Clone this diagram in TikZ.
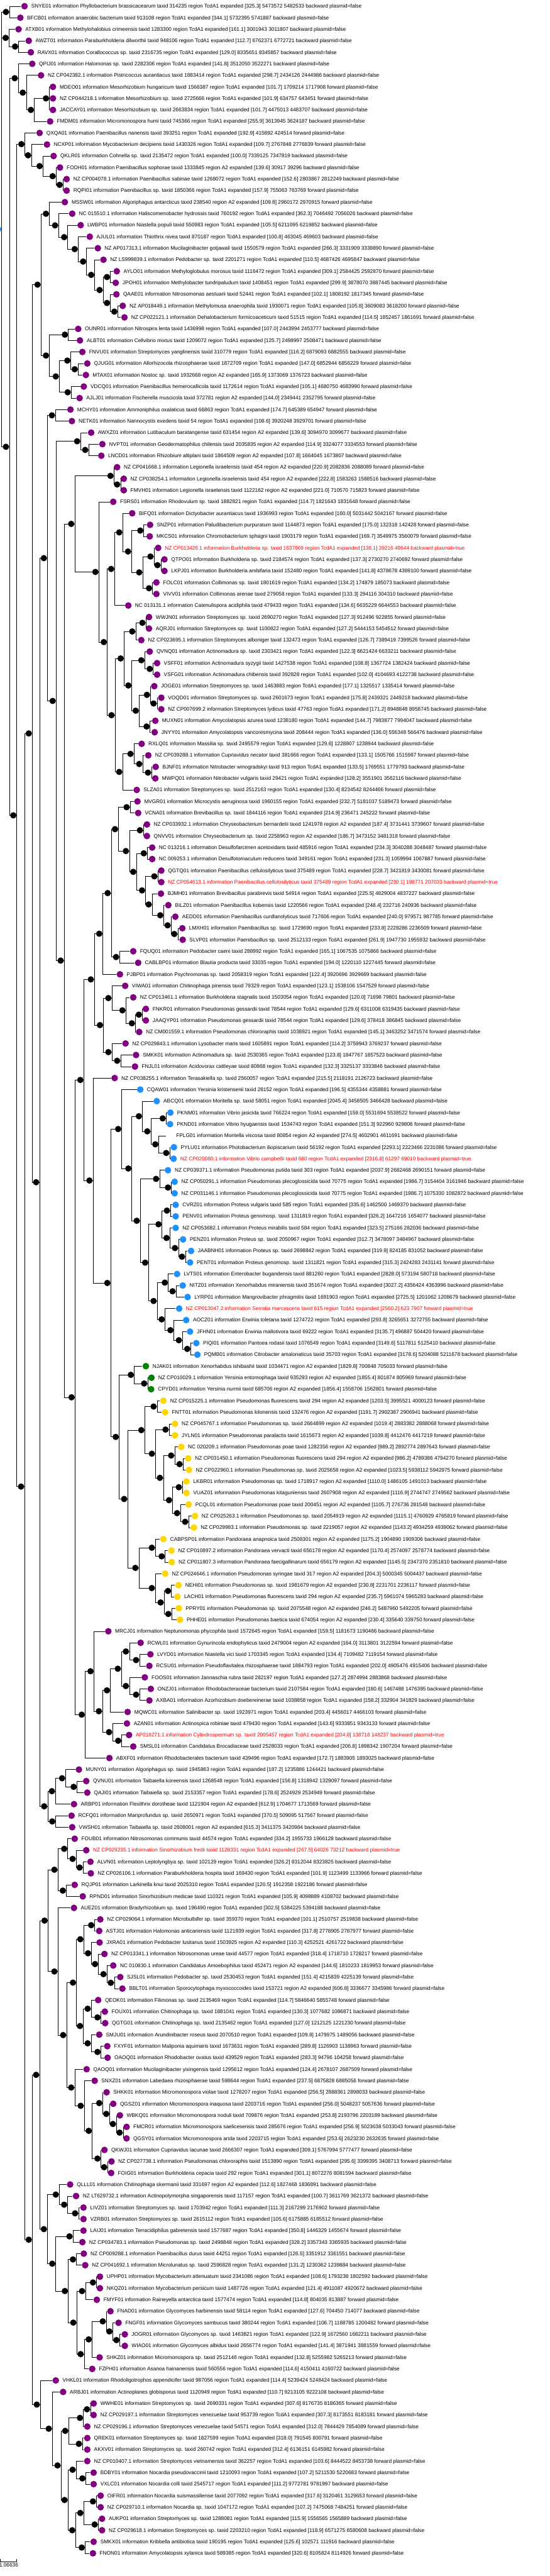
\documentclass[tikz,border=0pt]{standalone}
\usepackage{fontspec}
\setmainfont{Liberation Sans}
\usetikzlibrary{calc}
\pgfdeclarelayer{bg}
\pgfdeclarelayer{paper}
\pgfsetlayers{paper,bg,main}
\definecolor{lpurple}{RGB}{128,0,128}
\definecolor{lblue}{RGB}{30,144,255}
\definecolor{lgreen}{RGB}{0,128,0}
\definecolor{lgold}{RGB}{255,215,0}
\definecolor{lred}{RGB}{255,0,0}
\tikzset{
  br/.style={draw=black, line width=0.55pt},
  ldot/.style={circle, inner sep=0pt, minimum size=9.6pt, draw=none},
  ndot/.style={circle, inner sep=0pt, minimum size=9.2pt, fill=black, draw=none},
  lab/.style={anchor=mid west, inner sep=0pt, font=\fontsize{7.6}{9}\selectfont},
}
\newcommand{\lf}[5][]{%
  \pgfmathsetmacro{\ly}{18+33.52*#2}%
  \coordinate (l#2) at ({#3-10},\ly);%
  \node[ldot, fill=#4] (d#2) at (#3,\ly) {};%
  \node[lab,#1] (t#2) at ({#3+19},\ly) {#5};}
\newcommand{\nd}[4]{%
  \path let \p1=(#3), \p2=(#4) in ({#2*0.5102pt},{(\y1+\y2)/2}) coordinate (#1);%
  \begin{pgfonlayer}{bg}\draw[br] (#1) |- (#3); \draw[br] (#1) |- (#4);\end{pgfonlayer}%
  \node[ndot] (#1d) at ([xshift=-5.1pt]#1) {};}
\begin{document}
\begin{tikzpicture}[x=0.5102pt,y=-0.5pt]
\useasboundingbox (0,0) rectangle (1568,7492);
\begin{pgfonlayer}{paper}\fill[white] (0,0) rectangle (1568,7492);\end{pgfonlayer}
\lf{0}{70}{lpurple}{SNYE01 information Phyllobacterium brassicacearum taxid 314235 region TcdA1 expanded [325.3] 5473572 5482533 backward plasmid=false}
\lf{1}{58}{lpurple}{BFCB01 information anaerobic bacterium taxid 913108 region TcdA1 expanded [344.1] 5732395 5741887 backward plasmid=false}
\lf{2}{53}{lpurple}{ATXB01 information Methylohalobius crimeensis taxid 1283300 region TcdA1 expanded [161.1] 3001943 3011807 backward plasmid=false}
\lf{3}{82}{lpurple}{AWZT01 information Paraburkholderia dilworthii taxid 948106 region TcdA1 expanded [112.7] 6762371 6772721 backward plasmid=false}
\lf{4}{88}{lpurple}{RAVX01 information Corallococcus sp. taxid 2316735 region TcdA1 expanded [129.0] 8335651 8345857 backward plasmid=false}
\lf{5}{92}{lpurple}{QPIJ01 information Halomonas sp. taxid 2282306 region TcdA1 expanded [141.8] 3512050 3522271 backward plasmid=false}
\lf{6}{117}{lpurple}{NZ CP042382.1 information Pistricoccus aurantiacus taxid 1883414 region TcdA1 expanded [298.7] 2434126 2444986 backward plasmid=false}
\lf{7}{151}{lpurple}{MDEO01 information Mesorhizobium hungaricum taxid 1566387 region TcdA1 expanded [101.7] 1709214 1717908 forward plasmid=false}
\lf{8}{151}{lpurple}{NZ CP044218.1 information Mesorhizobium sp. taxid 2725666 region TcdA1 expanded [101.9] 634757 643451 forward plasmid=false}
\lf{9}{151}{lpurple}{JACCAY01 information Mesorhizobium sp. taxid 2663834 region TcdA1 expanded [101.7] 4475013 4483707 backward plasmid=false}
\lf{10}{143}{lpurple}{FMDM01 information Micromonospora humi taxid 745366 region TcdA1 expanded [255.9] 3613945 3624187 backward plasmid=false}
\lf{11}{113}{lpurple}{QXQA01 information Paenibacillus nanensis taxid 393251 region TcdA1 expanded [192.9] 415892 424514 forward plasmid=false}
\lf{12}{134}{lpurple}{NCXP01 information Mycobacterium decipiens taxid 1430326 region TcdA1 expanded [109.7] 2767848 2776839 forward plasmid=false}
\lf{13}{153}{lpurple}{QKLR01 information Cohnella sp. taxid 2135472 region TcdA1 expanded [100.0] 7339125 7347819 backward plasmid=false}
\lf{14}{171}{lpurple}{FODH01 information Paenibacillus sophorae taxid 1333845 region A2 expanded [139.6] 30917 39296 backward plasmid=false}
\lf{15}{190}{lpurple}{NZ CP004078.1 information Paenibacillus sabinae taxid 1268072 region TcdA1 expanded [152.6] 2803867 2812249 backward plasmid=false}
\lf{16}{190}{lpurple}{RQPI01 information Paenibacillus sp. taxid 1850366 region TcdA1 expanded [157.9] 755063 763769 forward plasmid=false}
\lf{17}{185}{lpurple}{MSSW01 information Algoriphagus antarcticus taxid 238540 region A2 expanded [109.8] 2960172 2970915 forward plasmid=false}
\lf{18}{206}{lpurple}{NC 015510.1 information Haliscomenobacter hydrossis taxid 760192 region TcdA1 expanded [362.3] 7046492 7056026 backward plasmid=false}
\lf{19}{230}{lpurple}{LWBP01 information Niastella populi taxid 550983 region TcdA1 expanded [105.5] 6211095 6219852 backward plasmid=false}
\lf{20}{256}{lpurple}{AJUL01 information Thiothrix nivea taxid 870187 region TcdA1 expanded [100.8] 463045 469603 backward plasmid=false}
\lf{21}{279}{lpurple}{NZ AP017313.1 information Mucilaginibacter gotjawali taxid 1550579 region TcdA1 expanded [266.3] 3331909 3338890 forward plasmid=false}
\lf{22}{295}{lpurple}{NZ LS999839.1 information Pedobacter sp. taxid 2201271 region TcdA1 expanded [110.5] 4687426 4695847 backward plasmid=false}
\lf{23}{333}{lpurple}{AYLO01 information Methyloglobulus morosus taxid 1116472 region TcdA1 expanded [309.1] 2584425 2592870 forward plasmid=false}
\lf{24}{330}{lpurple}{JPOH01 information Methylobacter tundripaludum taxid 1408451 region TcdA1 expanded [299.9] 3878070 3887445 backward plasmid=false}
\lf{25}{332}{lpurple}{QAAE01 information Nitrosomonas aestuarii taxid 52441 region TcdA1 expanded [102.1] 1808192 1817345 forward plasmid=false}
\lf{26}{350}{lpurple}{NZ AP018449.1 information Methylomusa anaerophila taxid 1930071 region TcdA1 expanded [105.8] 3609083 3618200 forward plasmid=false}
\lf{27}{355}{lpurple}{NZ CP022121.1 information Dehalobacterium formicoaceticum taxid 51515 region TcdA1 expanded [114.5] 1852457 1861691 forward plasmid=false}
\lf{28}{223}{lpurple}{OUNR01 information Nitrospira lenta taxid 1436998 region TcdA1 expanded [107.0] 2443994 2453777 backward plasmid=false}
\lf{29}{228}{lpurple}{ALBT01 information Cellvibrio mixtus taxid 1209072 region TcdA1 expanded [125.7] 2498997 2508471 backward plasmid=false}
\lf{30}{235}{lpurple}{FNVU01 information Streptomyces yanglinensis taxid 310779 region TcdA1 expanded [116.2] 6879093 6882555 backward plasmid=false}
\lf{31}{249}{lpurple}{QJUG01 information Allorhizocola rhizosphaerae taxid 1872709 region TcdA1 expanded [147.0] 6852944 6856229 forward plasmid=false}
\lf{32}{245}{lpurple}{MTAX01 information Nostoc sp. taxid 1932668 region A2 expanded [165.9] 1373069 1376723 backward plasmid=false}
\lf{33}{239}{lpurple}{VDCQ01 information Paenibacillus hemerocallicola taxid 1172614 region TcdA1 expanded [105.1] 4680750 4683990 forward plasmid=false}
\lf{34}{227}{lpurple}{AJLJ01 information Fischerella muscicola taxid 372781 region A2 expanded [144.0] 2349441 2352795 forward plasmid=false}
\lf{35}{201}{lpurple}{MCHY01 information Ammoniphilus oxalaticus taxid 66863 region TcdA1 expanded [174.7] 645389 654947 forward plasmid=false}
\lf{36}{205}{lpurple}{NETK01 information Nannocystis exedens taxid 54 region TcdA1 expanded [108.6] 3920248 3929701 forward plasmid=false}
\lf{37}{260}{lpurple}{AWXZ01 information Lutibaculum baratangense taxid 631454 region A2 expanded [139.6] 3094970 3099677 backward plasmid=false}
\lf{38}{292}{lpurple}{NVPT01 information Geodermatophilus chilensis taxid 2035835 region A2 expanded [114.9] 3324077 3334553 forward plasmid=false}
\lf{39}{289}{lpurple}{LNCD01 information Rhizobium altiplani taxid 1864509 region A2 expanded [107.8] 1664045 1673807 backward plasmid=false}
\lf{40}{334}{lpurple}{NZ CP041668.1 information Legionella israelensis taxid 454 region A2 expanded [220.9] 2082836 2088089 forward plasmid=false}
\lf{41}{353}{lpurple}{NZ CP038254.1 information Legionella israelensis taxid 454 region A2 expanded [222.8] 1583263 1588516 backward plasmid=false}
\lf{42}{353}{lpurple}{FMVH01 information Legionella israelensis taxid 1122162 region A2 expanded [221.0] 710570 715823 forward plasmid=false}
\lf{43}{323}{lpurple}{FSRS01 information Rhodovulum sp. taxid 1882821 region TcdA1 expanded [114.7] 1821643 1831648 forward plasmid=false}
\lf{44}{377}{lpurple}{BIFQ01 information Dictyobacter aurantiacus taxid 1936993 region TcdA1 expanded [160.0] 5031442 5042167 forward plasmid=false}
\lf{45}{428}{lpurple}{SNZP01 information Paludibacterium purpuratum taxid 1144873 region TcdA1 expanded [175.0] 132318 142428 forward plasmid=false}
\lf{46}{427}{lpurple}{MKCS01 information Chromobacterium sphagni taxid 1903179 region TcdA1 expanded [169.7] 3549975 3560079 forward plasmid=false}
\lf[text=lred]{47}{451}{lpurple}{NZ CP013426.1 information Burkholderia sp. taxid 1637869 region TcdA1 expanded [138.1] 39216 49644 backward plasmid=true}
\lf{48}{469}{lpurple}{QTPO01 information Burkholderia sp. taxid 2184574 region TcdA1 expanded [137.3] 2730270 2740692 forward plasmid=false}
\lf{49}{469}{lpurple}{LKPJ01 information Burkholderia ambifaria taxid 152480 region TcdA1 expanded [141.8] 4378678 4389100 forward plasmid=false}
\lf{50}{446}{lpurple}{FOLC01 information Collimonas sp. taxid 1801619 region TcdA1 expanded [134.2] 174879 185073 backward plasmid=false}
\lf{51}{446}{lpurple}{VIVV01 information Collimonas arenae taxid 279058 region TcdA1 expanded [133.3] 294116 304310 backward plasmid=false}
\lf{52}{366}{lpurple}{NC 013131.1 information Catenulispora acidiphila taxid 479433 region TcdA1 expanded [134.6] 6635229 6644553 backward plasmid=false}
\lf{53}{425}{lpurple}{WWJN01 information Streptomyces sp. taxid 2690270 region TcdA1 expanded [127.3] 912496 922855 forward plasmid=false}
\lf{54}{425}{lpurple}{AQRJ01 information Streptomyces sp. taxid 1100822 region TcdA1 expanded [127.2] 5444153 5454512 forward plasmid=false}
\lf{55}{403}{lpurple}{NZ CP023695.1 information Streptomyces alboniger taxid 132473 region TcdA1 expanded [126.7] 7389419 7399526 forward plasmid=false}
\lf{56}{427}{lpurple}{QVNQ01 information Actinomadura sp. taxid 2303421 region TcdA1 expanded [122.3] 6621424 6633211 backward plasmid=false}
\lf{57}{448}{lpurple}{VSFF01 information Actinomadura syzygii taxid 1427538 region TcdA1 expanded [108.8] 1367724 1382424 backward plasmid=false}
\lf{58}{448}{lpurple}{VSFG01 information Actinomadura chibensis taxid 392828 region TcdA1 expanded [102.0] 4104693 4122738 backward plasmid=false}
\lf{59}{440}{lpurple}{JOGE01 information Streptomyces sp. taxid 1463883 region TcdA1 expanded [177.1] 1325517 1335414 forward plasmid=false}
\lf{60}{460}{lpurple}{VOQD01 information Streptomyces sp. taxid 2601673 region TcdA1 expanded [175.8] 2439321 2449218 backward plasmid=false}
\lf{61}{460}{lpurple}{NZ CP007699.2 information Streptomyces lydicus taxid 47763 region TcdA1 expanded [171.2] 8948848 8958745 backward plasmid=false}
\lf{62}{443}{lpurple}{MUXN01 information Amycolatopsis azurea taxid 1238180 region TcdA1 expanded [144.7] 7983877 7994047 backward plasmid=false}
\lf{63}{441}{lpurple}{JNYY01 information Amycolatopsis vancoresmycina taxid 208444 region TcdA1 expanded [136.0] 556348 566476 backward plasmid=false}
\lf{64}{404}{lpurple}{RXLQ01 information Massilia sp. taxid 2495579 region TcdA1 expanded [129.6] 1228807 1238944 backward plasmid=false}
\lf{65}{423}{lpurple}{NZ CP039288.1 information Cupriavidus necator taxid 381666 region TcdA1 expanded [133.1] 1505766 1515987 forward plasmid=false}
\lf{66}{444}{lpurple}{BJNF01 information Nitrobacter winogradskyi taxid 913 region TcdA1 expanded [133.5] 1769551 1779793 backward plasmid=false}
\lf{67}{443}{lpurple}{MWPQ01 information Nitrobacter vulgaris taxid 29421 region TcdA1 expanded [128.2] 3551901 3562116 backward plasmid=false}
\lf{68}{390}{lpurple}{SLZA01 information Streptomyces sp. taxid 2512163 region TcdA1 expanded [130.4] 8234542 8244466 forward plasmid=false}
\lf{69}{392}{lpurple}{MVGR01 information Microcystis aeruginosa taxid 1960155 region TcdA1 expanded [232.7] 5181037 5189473 forward plasmid=false}
\lf{70}{394}{lpurple}{VCNA01 information Brevibacillus sp. taxid 1844116 region TcdA1 expanded [214.9] 236471 245222 forward plasmid=false}
\lf{71}{419}{lpurple}{NZ CP033932.1 information Chryseobacterium bernardetii taxid 1241978 region A2 expanded [187.4] 3731441 3739607 forward plasmid=false}
\lf{72}{419}{lpurple}{QNVV01 information Chryseobacterium sp. taxid 2258963 region A2 expanded [186.7] 3473152 3481318 forward plasmid=false}
\lf{73}{434}{lpurple}{NC 013216.1 information Desulfofarcimen acetoxidans taxid 485916 region TcdA1 expanded [234.3] 3040288 3048487 forward plasmid=false}
\lf{74}{434}{lpurple}{NC 009253.1 information Desulfotomaculum reducens taxid 349161 region TcdA1 expanded [231.3] 1059994 1067887 forward plasmid=false}
\lf{75}{460}{lpurple}{QGTQ01 information Paenibacillus cellulosilyticus taxid 375489 region TcdA1 expanded [228.7] 3421819 3430081 forward plasmid=false}
\lf[text=lred]{76}{460}{lpurple}{NZ CP054613.1 information Paenibacillus cellulosilyticus taxid 375489 region TcdA1 expanded [230.1] 198771 207033 backward plasmid=true}
\lf{77}{459}{lpurple}{BJMH01 information Brevibacillus parabrevis taxid 54914 region TcdA1 expanded [225.5] 4829004 4837227 backward plasmid=false}
\lf{78}{480}{lpurple}{BILZ01 information Paenibacillus kobensis taxid 1220566 region TcdA1 expanded [248.4] 232716 240936 backward plasmid=false}
\lf{79}{500}{lpurple}{AEDD01 information Paenibacillus curdlanolyticus taxid 717606 region TcdA1 expanded [240.0] 979571 987785 forward plasmid=false}
\lf{80}{520}{lpurple}{LMXH01 information Paenibacillus sp. taxid 1729690 region TcdA1 expanded [233.8] 2228286 2236509 forward plasmid=false}
\lf{81}{521}{lpurple}{SLVP01 information Paenibacillus sp. taxid 2512133 region TcdA1 expanded [261.9] 1947730 1955932 backward plasmid=false}
\lf{82}{380}{lpurple}{FQUQ01 information Pedobacter caeni taxid 288992 region TcdA1 expanded [165.1] 1067535 1075866 backward plasmid=false}
\lf{83}{394}{lpurple}{CABLBP01 information Blautia producta taxid 33035 region TcdA1 expanded [194.0] 1220110 1227445 forward plasmid=false}
\lf{84}{342}{lpurple}{PJBP01 information Psychromonas sp. taxid 2058319 region TcdA1 expanded [122.4] 3920696 3929669 backward plasmid=false}
\lf{85}{357}{lpurple}{VIWA01 information Chitinophaga pinensis taxid 79329 region TcdA1 expanded [123.1] 1538106 1547529 forward plasmid=false}
\lf{86}{380}{lpurple}{NZ CP013461.1 information Burkholderia stagnalis taxid 1503054 region TcdA1 expanded [120.0] 71698 79801 backward plasmid=false}
\lf{87}{416}{lpurple}{FNKR01 information Pseudomonas gessardii taxid 78544 region TcdA1 expanded [129.6] 6311008 6319435 backward plasmid=false}
\lf{88}{416}{lpurple}{JAAQYP01 information Pseudomonas gessardii taxid 78544 region TcdA1 expanded [129.6] 378418 386845 backward plasmid=false}
\lf{89}{397}{lpurple}{NZ CM001559.1 information Pseudomonas chlororaphis taxid 1038921 region TcdA1 expanded [145.1] 3463252 3471574 forward plasmid=false}
\lf{90}{358}{lpurple}{NZ CP029843.1 information Lysobacter maris taxid 1605891 region TcdA1 expanded [114.2] 3759943 3769237 forward plasmid=false}
\lf{91}{388}{lpurple}{SMKK01 information Actinomadura sp. taxid 2530365 region TcdA1 expanded [123.8] 1847767 1857523 backward plasmid=false}
\lf{92}{385}{lpurple}{FNJL01 information Acidovorax cattleyae taxid 80868 region TcdA1 expanded [132.3] 3325137 3333846 backward plasmid=false}
\lf{93}{327}{lpurple}{NZ CP038255.1 information Terasakiella sp. taxid 2560057 region TcdA1 expanded [215.5] 2118191 2126723 backward plasmid=false}
\lf{94}{400}{lblue}{CQAW01 information Yersinia kristensenii taxid 28152 region TcdA1 expanded [196.5] 4355344 4358881 forward plasmid=false}
\lf{95}{447}{lblue}{ABCQ01 information Moritella sp. taxid 58051 region TcdA1 expanded [2045.4] 3458505 3466428 backward plasmid=false}
\lf{96}{486}{lblue}{PKNM01 information Vibrio jasicida taxid 766224 region TcdA1 expanded [159.0] 5531694 5538522 forward plasmid=false}
\lf{97}{485}{lblue}{PKND01 information Vibrio hyugaensis taxid 1534743 region TcdA1 expanded [151.3] 922960 929806 forward plasmid=false}
\lf{98}{483}{none}{FPLG01 information Moritella viscosa taxid 80854 region A2 expanded [274.5] 4602901 4611691 backward plasmid=false}
\lf{99}{496}{lblue}{PYLU01 information Photobacterium iliopiscarium taxid 56192 region TcdA1 expanded [2293.1] 2223466 2231086 forward plasmid=false}
\lf[text=lred]{100}{495}{lblue}{NZ CP020080.1 information Vibrio campbellii taxid 680 region TcdA1 expanded [2316.8] 61297 69010 backward plasmid=true}
\lf{101}{479}{lblue}{NZ CP039371.1 information Pseudomonas putida taxid 303 region TcdA1 expanded [2037.9] 2682468 2690151 forward plasmid=false}
\lf{102}{498}{lblue}{NZ CP050291.1 information Pseudomonas plecoglossicida taxid 70775 region TcdA1 expanded [1986.7] 3154404 3161946 backward plasmid=false}
\lf{103}{498}{lblue}{NZ CP031146.1 information Pseudomonas plecoglossicida taxid 70775 region TcdA1 expanded [1986.7] 1075330 1082872 backward plasmid=false}
\lf{104}{501}{lblue}{CVRZ01 information Proteus vulgaris taxid 585 region TcdA1 expanded [335.6] 1462500 1469370 backward plasmid=false}
\lf{105}{501}{lblue}{PENV01 information Proteus genomosp. taxid 1311819 region TcdA1 expanded [326.2] 1647216 1654077 backward plasmid=false}
\lf{106}{501}{lblue}{NZ CP053682.1 information Proteus mirabilis taxid 584 region TcdA1 expanded [323.5] 275166 282036 backward plasmid=false}
\lf{107}{522}{lblue}{PENZ01 information Proteus sp. taxid 2050967 region TcdA1 expanded [312.7] 3478097 3484967 backward plasmid=false}
\lf{108}{545}{lblue}{JAABNH01 information Proteus sp. taxid 2698842 region TcdA1 expanded [319.9] 824185 831052 backward plasmid=false}
\lf{109}{542}{lblue}{PENT01 information Proteus genomosp. taxid 1311821 region TcdA1 expanded [315.3] 2424283 2431141 forward plasmid=false}
\lf{110}{505}{lblue}{LVTS01 information Enterobacter bugandensis taxid 881260 region TcdA1 expanded [2828.0] 573194 580718 backward plasmid=false}
\lf{111}{521}{lblue}{NITZ01 information Xenorhabdus miraniensis taxid 351674 region TcdA1 expanded [3027.2] 4356424 4363996 backward plasmid=false}
\lf{112}{535}{lblue}{LYRP01 information Mangrovibacter phragmitis taxid 1691903 region TcdA1 expanded [2725.5] 1201062 1208679 backward plasmid=false}
\lf[text=lred]{113}{511}{lblue}{NZ CP013047.2 information Serratia marcescens taxid 615 region TcdA1 expanded [2560.2] 623 7907 forward plasmid=true}
\lf{114}{531}{lblue}{AOCZ01 information Erwinia toletana taxid 1274722 region TcdA1 expanded [293.8] 3265651 3272755 backward plasmid=false}
\lf{115}{542}{lblue}{JFHN01 information Erwinia mallotivora taxid 69222 region TcdA1 expanded [3135.7] 496887 504420 forward plasmid=false}
\lf{116}{560}{lblue}{PIQI01 information Pantoea rodasii taxid 1076549 region TcdA1 expanded [3149.6] 5117811 5125410 backward plasmid=false}
\lf{117}{563}{lblue}{PQMB01 information Citrobacter amalonaticus taxid 35703 region TcdA1 expanded [3178.6] 5204088 5211678 backward plasmid=false}
\lf{118}{416}{lgreen}{NJAK01 information Xenorhabdus ishibashii taxid 1034471 region A2 expanded [1829.8] 700848 705033 forward plasmid=false}
\lf{119}{432}{lgreen}{NZ CP010029.1 information Yersinia entomophaga taxid 935293 region A2 expanded [1855.4] 801874 805969 forward plasmid=false}
\lf{120}{431}{lgreen}{CPYD01 information Yersinia nurmii taxid 685706 region A2 expanded [1856.4] 1558706 1562801 forward plasmid=false}
\lf{121}{466}{lgold}{NZ CP015225.1 information Pseudomonas fluorescens taxid 294 region A2 expanded [1203.5] 3995521 4000123 forward plasmid=false}
\lf{122}{471}{lgold}{FNTT01 information Pseudomonas kilonensis taxid 132476 region A2 expanded [1191.7] 2902387 2906941 backward plasmid=false}
\lf{123}{499}{lgold}{NZ CP045767.1 information Pseudomonas sp. taxid 2664899 region A2 expanded [1019.4] 2883382 2888068 forward plasmid=false}
\lf{124}{499}{lgold}{JYLN01 information Pseudomonas paralactis taxid 1615673 region A2 expanded [1039.8] 4412476 4417219 forward plasmid=false}
\lf{125}{517}{lgold}{NC 020209.1 information Pseudomonas poae taxid 1282356 region A2 expanded [989.2] 2892774 2897643 forward plasmid=false}
\lf{126}{537}{lgold}{NZ CP031450.1 information Pseudomonas fluorescens taxid 294 region A2 expanded [986.2] 4789386 4794270 forward plasmid=false}
\lf{127}{539}{lgold}{NZ CP022960.1 information Pseudomonas sp. taxid 2025658 region A2 expanded [1023.5] 5938112 5942975 forward plasmid=false}
\lf{128}{532}{lgold}{LKBR01 information Pseudomonas sp. taxid 1718917 region A2 expanded [1110.0] 1486105 1491013 backward plasmid=false}
\lf{129}{532}{lgold}{VUAZ01 information Pseudomonas kitaguniensis taxid 2607908 region A2 expanded [1116.9] 2744747 2749562 backward plasmid=false}
\lf{130}{538}{lgold}{PCQL01 information Pseudomonas poae taxid 200451 region A2 expanded [1105.7] 276736 281548 backward plasmid=false}
\lf{131}{556}{lgold}{NZ CP025263.1 information Pseudomonas sp. taxid 2054919 region A2 expanded [1115.1] 4760929 4765819 forward plasmid=false}
\lf{132}{553}{lgold}{NZ CP029983.1 information Pseudomonas sp. taxid 2219057 region A2 expanded [1143.2] 4934259 4939062 forward plasmid=false}
\lf{133}{466}{lgold}{CABPSP01 information Pandoraea anapnoica taxid 2508301 region A2 expanded [1175.2] 1904890 1909306 backward plasmid=false}
\lf{134}{489}{lgold}{NZ CP010897.2 information Pandoraea vervacti taxid 656178 region A2 expanded [1170.4] 2574097 2578774 backward plasmid=false}
\lf{135}{490}{lgold}{NZ CP011807.3 information Pandoraea faecigallinarum taxid 656179 region A2 expanded [1145.5] 2347370 2351810 backward plasmid=false}
\lf{136}{471}{lgold}{NZ CP024646.1 information Pseudomonas syringae taxid 317 region A2 expanded [204.3] 5000345 5004437 backward plasmid=false}
\lf{137}{509}{lgold}{NEHI01 information Pseudomonas sp. taxid 1981679 region A2 expanded [230.8] 2231701 2236117 forward plasmid=false}
\lf{138}{506}{lgold}{LACH01 information Pseudomonas fluorescens taxid 294 region A2 expanded [235.7] 5961074 5965283 backward plasmid=false}
\lf{139}{510}{lgold}{PPRY01 information Pseudomonas sp. taxid 2075548 region A2 expanded [246.2] 5487960 5492205 forward plasmid=false}
\lf{140}{513}{lgold}{PHHE01 information Pseudomonas baetica taxid 674054 region A2 expanded [230.4] 335640 339750 forward plasmid=false}
\lf{141}{309}{lpurple}{MRCJ01 information Neptunomonas phycophila taxid 1572645 region TcdA1 expanded [159.5] 1181673 1190466 backward plasmid=false}
\lf{142}{401}{lpurple}{RCWL01 information Gynurincola endophyticus taxid 2479004 region A2 expanded [164.0] 3113801 3122594 forward plasmid=false}
\lf{143}{429}{lpurple}{LVYD01 information Niastella vici taxid 1703345 region TcdA1 expanded [134.4] 7109482 7119154 forward plasmid=false}
\lf{144}{426}{lpurple}{RCSU01 information Pseudoflavitalea rhizosphaerae taxid 1884793 region TcdA1 expanded [202.0] 4905476 4915406 backward plasmid=false}
\lf{145}{413}{lpurple}{FOOS01 information Jannaschia rubra taxid 282197 region TcdA1 expanded [127.2] 2874994 2883868 backward plasmid=false}
\lf{146}{430}{lpurple}{ONZJ01 information Rhodobacteraceae bacterium taxid 2107584 region TcdA1 expanded [180.6] 1467488 1476395 backward plasmid=false}
\lf{147}{426}{lpurple}{AXBA01 information Azorhizobium doebereinerae taxid 1038858 region TcdA1 expanded [158.2] 332904 341829 backward plasmid=false}
\lf{148}{364}{lpurple}{MQWC01 information Salinibacter sp. taxid 1923971 region TcdA1 expanded [203.4] 4456017 4466103 forward plasmid=false}
\lf{149}{362}{lpurple}{AZAN01 information Actinospica robiniae taxid 479430 region TcdA1 expanded [143.6] 9333851 9343133 forward plasmid=false}
\lf[text=lred]{150}{368}{lpurple}{AP018271.1 information Cylindrospermum sp. taxid 2005457 region TcdA1 expanded [204.8] 138718 148237 backward plasmid=true}
\lf{151}{380}{lpurple}{SMSL01 information Candidatus Brocadiaceae taxid 2528033 region TcdA1 expanded [206.8] 1898342 1907204 forward plasmid=false}
\lf{152}{312}{lpurple}{ABXF01 information Rhodobacterales bacterium taxid 439496 region TcdA1 expanded [172.7] 1883905 1893025 backward plasmid=false}
\lf{153}{225}{lpurple}{MUNY01 information Algoriphagus sp. taxid 1945863 region TcdA1 expanded [187.2] 1235886 1244421 backward plasmid=false}
\lf{154}{246}{lpurple}{QVNU01 information Taibaiella koreensis taxid 1268548 region TcdA1 expanded [156.8] 1318942 1329097 forward plasmid=false}
\lf{155}{249}{lpurple}{QAJI01 information Taibaiella sp. taxid 2153357 region TcdA1 expanded [178.6] 2524929 2534949 forward plasmid=false}
\lf{156}{211}{lpurple}{ARBP01 information Flexithrix dorotheae taxid 1121904 region A2 expanded [612.9] 1704677 1713569 forward plasmid=false}
\lf{157}{204}{lpurple}{RCFQ01 information Mariprofundus sp. taxid 2650971 region TcdA1 expanded [370.5] 509095 517567 forward plasmid=false}
\lf{158}{206}{lpurple}{VWSH01 information Taibaiella sp. taxid 2608001 region A2 expanded [615.3] 3411375 3420984 backward plasmid=false}
\lf{159}{213}{lpurple}{FOUB01 information Nitrosomonas communis taxid 44574 region TcdA1 expanded [334.2] 1955733 1966128 backward plasmid=false}
\lf[text=lred]{160}{246}{lpurple}{NZ CP029235.1 information Sinorhizobium fredii taxid 1128331 region TcdA1 expanded [267.5] 64026 73212 backward plasmid=true}
\lf{161}{258}{lpurple}{ALVN01 information Leptolyngbya sp. taxid 102129 region TcdA1 expanded [326.2] 8312044 8323825 backward plasmid=false}
\lf{162}{259}{lpurple}{NZ CP026106.1 information Paraburkholderia hospita taxid 169430 region TcdA1 expanded [101.9] 1123499 1133966 forward plasmid=false}
\lf{163}{213}{lpurple}{RQJP01 information Larkinella knui taxid 2025310 region TcdA1 expanded [120.5] 1912358 1922186 forward plasmid=false}
\lf{164}{236}{lpurple}{RPND01 information Sinorhizobium medicae taxid 110321 region TcdA1 expanded [105.9] 4098889 4108702 backward plasmid=false}
\lf{165}{211}{lpurple}{AUEZ01 information Bradyrhizobium sp. taxid 196490 region TcdA1 expanded [302.5] 5384225 5394188 backward plasmid=false}
\lf{166}{286}{lpurple}{NZ CP029064.1 information Microbulbifer sp. taxid 359370 region TcdA1 expanded [101.1] 2510757 2519838 backward plasmid=false}
\lf{167}{283}{lpurple}{ASTJ01 information Halomonas anticariensis taxid 1121939 region TcdA1 expanded [317.8] 2778905 2787977 forward plasmid=false}
\lf{168}{284}{lpurple}{JXRA01 information Pedobacter lusitanus taxid 1503925 region A2 expanded [110.3] 4252521 4261722 backward plasmid=false}
\lf{169}{298}{lpurple}{NZ CP013341.1 information Nitrosomonas ureae taxid 44577 region TcdA1 expanded [318.4] 1718710 1728217 forward plasmid=false}
\lf{170}{323}{lpurple}{NC 010830.1 information Candidatus Amoebophilus taxid 452471 region A2 expanded [144.6] 1810233 1819953 forward plasmid=false}
\lf{171}{343}{lpurple}{SJSL01 information Pedobacter sp. taxid 2530453 region TcdA1 expanded [151.4] 4215839 4225139 forward plasmid=false}
\lf{172}{349}{lpurple}{BBLT01 information Sporocytophaga myxococcoides taxid 153721 region A2 expanded [606.8] 3336677 3345986 forward plasmid=false}
\lf{173}{280}{lpurple}{QEOK01 information Filimonas sp. taxid 2135469 region TcdA1 expanded [114.7] 5846640 5855748 forward plasmid=false}
\lf{174}{299}{lpurple}{FOUX01 information Chitinophaga sp. taxid 1881041 region TcdA1 expanded [130.3] 1077682 1086871 backward plasmid=false}
\lf{175}{300}{lpurple}{QGTG01 information Chitinophaga sp. taxid 2135462 region TcdA1 expanded [127.0] 1212125 1221230 forward plasmid=false}
\lf{176}{283}{lpurple}{SMJU01 information Arundinibacter roseus taxid 2070510 region TcdA1 expanded [109.8] 1479975 1489056 backward plasmid=false}
\lf{177}{306}{lpurple}{FXYF01 information Maliponia aquimaris taxid 1673631 region TcdA1 expanded [289.8] 1126903 1138963 forward plasmid=false}
\lf{178}{307}{lpurple}{OAOQ01 information Rhodobacter ovatus taxid 439529 region TcdA1 expanded [283.3] 94796 104258 forward plasmid=false}
\lf{179}{247}{lpurple}{QAOQ01 information Mucilaginibacter yixingensis taxid 1295612 region TcdA1 expanded [124.4] 2678107 2687509 forward plasmid=false}
\lf{180}{270}{lpurple}{SNXZ01 information Labedaea rhizosphaerae taxid 598644 region TcdA1 expanded [237.5] 6875828 6885056 forward plasmid=false}
\lf{181}{304}{lpurple}{SHKK01 information Micromonospora violae taxid 1278207 region TcdA1 expanded [256.5] 2888361 2898033 backward plasmid=false}
\lf{182}{323}{lpurple}{QGSZ01 information Micromonospora inaquosa taxid 2203716 region TcdA1 expanded [256.0] 5048237 5057636 forward plasmid=false}
\lf{183}{342}{lpurple}{WBKQ01 information Micromonospora noduli taxid 709876 region TcdA1 expanded [253.8] 2193796 2203189 backward plasmid=false}
\lf{184}{361}{lpurple}{FMCR01 information Micromonospora saelicesensis taxid 285676 region TcdA1 expanded [256.9] 5023638 5033043 forward plasmid=false}
\lf{185}{361}{lpurple}{QGSY01 information Micromonospora arida taxid 2203715 region TcdA1 expanded [253.6] 2623230 2632635 forward plasmid=false}
\lf{186}{298}{lpurple}{QKWJ01 information Cupriavidus lacunae taxid 2666307 region TcdA1 expanded [309.1] 5767994 5777477 forward plasmid=false}
\lf{187}{318}{lpurple}{NZ CP027738.1 information Pseudomonas chlororaphis taxid 1513890 region TcdA1 expanded [295.6] 3399395 3408713 forward plasmid=false}
\lf{188}{317}{lpurple}{FOIG01 information Burkholderia cepacia taxid 292 region TcdA1 expanded [301.1] 8072276 8081594 backward plasmid=false}
\lf{189}{200}{lpurple}{QLLL01 information Chitinophaga skermanii taxid 331697 region A2 expanded [112.6] 1827468 1836891 backward plasmid=false}
\lf{190}{217}{lpurple}{NZ LT629732.1 information Actinopolymorpha singaporensis taxid 117157 region TcdA1 expanded [100.7] 3611769 3621372 backward plasmid=false}
\lf{191}{238}{lpurple}{LIVZ01 information Streptomyces sp. taxid 1703942 region TcdA1 expanded [111.3] 2167299 2176902 forward plasmid=false}
\lf{192}{238}{lpurple}{VZRB01 information Streptomyces sp. taxid 2615112 region TcdA1 expanded [105.6] 6175885 6185512 forward plasmid=false}
\lf{193}{238}{lpurple}{LAIJ01 information Terracidiphilus gabretensis taxid 1577687 region TcdA1 expanded [350.8] 1446329 1455674 forward plasmid=false}
\lf{194}{235}{lpurple}{NZ CP034783.1 information Pseudomonas sp. taxid 2498848 region TcdA1 expanded [328.2] 3357343 3365935 backward plasmid=false}
\lf{195}{239}{lpurple}{NZ CP009288.1 information Paenibacillus durus taxid 44251 region TcdA1 expanded [126.5] 3351912 3361551 backward plasmid=false}
\lf{196}{243}{lpurple}{NZ CP041692.1 information Microlunatus sp. taxid 2596828 region TcdA1 expanded [131.2] 1230362 1239884 backward plasmid=false}
\lf{197}{285}{lpurple}{UPHP01 information Mycobacterium attenuatum taxid 2341086 region TcdA1 expanded [108.6] 1793238 1802592 backward plasmid=false}
\lf{198}{285}{lpurple}{NKQZ01 information Mycobacterium persicum taxid 1487726 region TcdA1 expanded [121.4] 4911087 4920672 backward plasmid=false}
\lf{199}{276}{lpurple}{FMYF01 information Raineyella antarctica taxid 1577474 region TcdA1 expanded [114.8] 804035 813887 forward plasmid=false}
\lf{200}{315}{lpurple}{FNAD01 information Glycomyces harbinensis taxid 58114 region TcdA1 expanded [127.6] 704450 714077 backward plasmid=false}
\lf{201}{338}{lpurple}{FNGF01 information Glycomyces sambucus taxid 380244 region TcdA1 expanded [106.7] 1188785 1200482 forward plasmid=false}
\lf{202}{356}{lpurple}{JOGR01 information Glycomyces sp. taxid 1463821 region TcdA1 expanded [122.9] 1672560 1682211 backward plasmid=false}
\lf{203}{356}{lpurple}{WIAO01 information Glycomyces albidus taxid 2656774 region TcdA1 expanded [141.4] 3871941 3881559 forward plasmid=false}
\lf{204}{284}{lpurple}{SHKZ01 information Micromonospora sp. taxid 2512146 region TcdA1 expanded [132.8] 5255982 5265213 forward plasmid=false}
\lf{205}{263}{lpurple}{FZPH01 information Asanoa hainanensis taxid 560556 region TcdA1 expanded [114.6] 4150411 4160722 backward plasmid=false}
\lf{206}{159}{lpurple}{VHKL01 information Rhodoligotrophos appendicifer taxid 987056 region TcdA1 expanded [114.4] 5239424 5248424 backward plasmid=false}
\lf{207}{180}{lpurple}{ARBJ01 information Actinoplanes globisporus taxid 1120949 region TcdA1 expanded [110.7] 9213105 9222108 backward plasmid=false}
\lf{208}{267}{lpurple}{WWHE01 information Streptomyces sp. taxid 2690331 region TcdA1 expanded [307.6] 8176735 8186365 forward plasmid=false}
\lf{209}{267}{lpurple}{NZ CP029197.1 information Streptomyces venezuelae taxid 953739 region TcdA1 expanded [307.3] 8173551 8183181 forward plasmid=false}
\lf{210}{249}{lpurple}{NZ CP029196.1 information Streptomyces venezuelae taxid 54571 region TcdA1 expanded [312.0] 7844429 7854089 forward plasmid=false}
\lf{211}{249}{lpurple}{QREK01 information Streptomyces sp. taxid 1827599 region TcdA1 expanded [318.0] 791545 800791 forward plasmid=false}
\lf{212}{249}{lpurple}{AKXV01 information Streptomyces sp. taxid 260742 region TcdA1 expanded [312.4] 6136151 6145982 forward plasmid=false}
\lf{213}{249}{lpurple}{NZ CP010407.1 information Streptomyces vietnamensis taxid 362257 region TcdA1 expanded [103.6] 8444522 8453738 forward plasmid=false}
\lf{214}{267}{lpurple}{BDBY01 information Nocardia pseudovaccinii taxid 1210093 region TcdA1 expanded [107.2] 5211530 5220683 forward plasmid=false}
\lf{215}{267}{lpurple}{VXLC01 information Nocardia colli taxid 2545717 region TcdA1 expanded [111.2] 9772781 9781997 backward plasmid=false}
\lf{216}{287}{lpurple}{OIFR01 information Nocardia suismassiliense taxid 2077092 region TcdA1 expanded [317.6] 3120461 3129653 forward plasmid=false}
\lf{217}{287}{lpurple}{NZ CP029710.1 information Nocardia sp. taxid 1047172 region TcdA1 expanded [107.2] 7475068 7484251 forward plasmid=false}
\lf{218}{291}{lpurple}{AUKP01 information Streptomyces sp. taxid 1288081 region TcdA1 expanded [115.9] 1556565 1565889 backward plasmid=false}
\lf{219}{291}{lpurple}{NZ CP029618.1 information Streptomyces sp. taxid 2203210 region TcdA1 expanded [118.9] 6571275 6580608 backward plasmid=false}
\lf{220}{267}{lpurple}{SMKX01 information Kribbella antibiotica taxid 190195 region TcdA1 expanded [125.6] 102571 111916 backward plasmid=false}
\lf{221}{265}{lpurple}{FNON01 information Amycolatopsis xylanica taxid 589385 region TcdA1 expanded [320.6] 8105824 8114926 forward plasmid=false}
% internal nodes (children before parents)
\nd{A}{27}{l0}{l1}
\nd{C}{53}{l3}{l4}
\nd{B}{26}{l2}{C}
\nd{G}{141}{l7}{l9}
\begin{pgfonlayer}{bg}\draw[br] (G) |- (l8);\end{pgfonlayer}
\nd{F}{98}{G}{l10}
\nd{E}{75}{l6}{F}
\nd{D}{52}{l5}{E}
\nd{L}{180}{l15}{l16}
\nd{K}{160}{l14}{L}
\nd{J}{123}{l13}{K}
\nd{I}{90}{l12}{J}
\nd{H}{71}{l11}{I}
\nd{S}{315}{l23}{l24}
\nd{V}{336}{l26}{l27}
\nd{U}{315}{l25}{V}
\nd{T}{294}{S}{U}
\nd{R}{270}{l22}{T}
\nd{Q}{247}{l21}{R}
\nd{P}{223}{l20}{Q}
\nd{O}{193}{l19}{P}
\nd{N}{167}{l18}{O}
\nd{M}{141}{l17}{N}
\nd{X2}{195}{l28}{l29}
\nd{AD}{223}{l31}{l32}
\nd{AB}{202}{l30}{AD}
\nd{AC}{203}{l33}{l34}
\nd{AA}{169}{AB}{AC}
\nd{Z}{141}{X2}{AA}
\nd{W}{117}{M}{Z}
\nd{AE}{158}{l35}{l36}
\nd{AG}{253}{l38}{l39}
\nd{AF}{230}{l37}{AG}
\nd{AK}{344}{l41}{l42}
\nd{AJ}{325}{l40}{AK}
\nd{AP}{410}{l45}{l46}
\nd{AR}{459}{l48}{l49}
\nd{AQ}{439}{l47}{AR}
\nd{AT}{435}{l50}{l51}
\nd{AS}{407}{AQ}{AT}
\nd{AO}{375}{AP}{AS}
\nd{AN}{350}{l44}{AO}
\nd{AM}{327}{AN}{l52}
\nd{AU}{416}{l53}{l54}
\nd{AV}{387}{AU}{l55}
\nd{AZ}{437}{l57}{l58}
\nd{AY}{413}{l56}{AZ}
\nd{BC}{448}{l60}{l61}
\nd{BB}{429}{l59}{BC}
\nd{BE}{428}{l62}{l63}
\nd{BD}{397}{BB}{BE}
\nd{BA}{376}{AY}{BD}
\nd{AX}{354}{AV}{BA}
\nd{BK}{432}{l66}{l67}
\nd{BJ}{407}{l65}{BK}
\nd{BI}{382}{l64}{BJ}
\nd{BL}{350}{BI}{l68}
\nd{BF}{328}{AX}{BL}
\nd{AW}{306}{AM}{BF}
\nd{AL}{282}{l43}{AW}
\nd{AI}{213}{AJ}{AL}
\nd{BM}{371}{l69}{l70}
\nd{BO}{409}{l71}{l72}
\nd{BQ}{420}{l73}{l74}
\nd{CC}{450}{l75}{l76}
\nd{CI}{507}{l80}{l81}
\nd{CH}{488}{l79}{CI}
\nd{CG}{467}{l78}{CH}
\nd{CF}{434}{l77}{CG}
\nd{CD}{415}{CC}{CF}
\nd{CB}{390}{BQ}{CD}
\nd{BP}{369}{BO}{CB}
\nd{BN}{338}{BM}{BP}
\nd{CK}{341}{l82}{l83}
\nd{CE}{317}{BN}{CK}
\nd{CJ}{293}{CE}{l84}
\nd{CO}{406}{l87}{l88}
\nd{CP}{386}{CO}{l89}
\nd{CN}{359}{l86}{CP}
\nd{CM}{319}{l85}{CN}
\nd{CS}{344}{l91}{l92}
\nd{CR}{319}{l90}{CS}
\nd{CQ}{295}{CM}{CR}
\nd{CL}{269}{CJ}{CQ}
\nd{DD}{474}{l96}{l97}
\nd{DG}{484}{l99}{l100}
\nd{DF}{453}{l98}{DG}
\nd{DE}{430}{DD}{DF}
\nd{DC}{406}{l95}{DE}
\nd{DJ}{489}{l102}{l103}
\nd{DI}{455}{l101}{DJ}
\nd{DM}{486}{l104}{l105}
\nd{DQ}{529}{l108}{l109}
\nd{DP}{509}{l107}{DQ}
\nd{DO}{485}{l106}{DP}
\nd{DN}{462}{DM}{DO}
\nd{DU}{502}{l111}{l112}
\nd{DS}{480}{l110}{DU}
\nd{DZ}{544}{l116}{l117}
\nd{DY}{520}{l115}{DZ}
\nd{DX}{496}{l114}{DY}
\nd{DW}{471}{l113}{DX}
\nd{DV}{448}{DS}{DW}
\nd{DR}{424}{DN}{DV}
\nd{DL}{400}{DI}{DR}
\nd{DH}{376}{DC}{DL}
\nd{DB}{347}{l94}{DH}
\nd{EC}{421}{l119}{l120}
\nd{EB}{383}{l118}{EC}
\nd{EE}{448}{l121}{l122}
\nd{EG}{482}{l123}{l124}
\nd{EJ}{522}{l126}{l127}
\nd{EI}{498}{l125}{EJ}
\nd{EL}{520}{l128}{l129}
\nd{EP}{538}{l131}{l132}
\nd{EO}{515}{l130}{EP}
\nd{EN}{492}{EL}{EO}
\nd{EK}{466}{EI}{EN}
\nd{EH}{443}{EG}{EK}
\nd{EF}{413}{EE}{EH}
\nd{ES}{471}{l134}{l135}
\nd{ER}{443}{l133}{ES}
\nd{EU}{489}{l137}{l138}
\nd{EW}{490}{l139}{l140}
\nd{EV}{468}{EU}{EW}
\nd{ET}{443}{l136}{EV}
\nd{EQ}{396}{ER}{ET}
\nd{EM}{364}{EF}{EQ}
\nd{ED}{340}{EB}{EM}
\nd{DT}{316}{DB}{ED}
\nd{DK}{265}{l93}{DT}
\nd{DA}{239}{CL}{DK}
\nd{EZ}{398}{l143}{l144}
\nd{EY}{369}{l142}{EZ}
\nd{FD}{398}{l146}{l147}
\nd{FC}{369}{l145}{FD}
\nd{FA}{346}{EY}{FC}
\nd{FB}{315}{FA}{l148}
\nd{FH}{347}{l150}{l151}
\nd{FG}{321}{l149}{FH}
\nd{FE}{292}{FB}{FG}
\nd{EX}{268}{l141}{FE}
\nd{FF}{243}{EX}{l152}
\nd{EA}{214}{DA}{FF}
\nd{BX}{183}{AI}{EA}
\nd{BG}{160}{AF}{BX}
\nd{AH}{135}{AE}{BG}
\nd{FJ}{220}{l154}{l155}
\nd{FI}{187}{l153}{FJ}
\nd{FK}{158}{FI}{l156}
\nd{FL}{159}{l157}{l158}
\nd{CA2}{136}{FK}{FL}
\nd{CA}{113}{AH}{CA2}
\nd{BH}{92}{W}{CA}
\nd{FO}{237}{l161}{l162}
\nd{FN}{217}{l160}{FO}
\nd{FM}{193}{l159}{FN}
\nd{FQ}{189}{l163}{l164}
\nd{FP}{165}{FM}{FQ}
\nd{FS}{270}{l166}{l167}
\nd{FX}{326}{l171}{l172}
\nd{FW}{305}{l170}{FX}
\nd{FV}{281}{l169}{FW}
\nd{FU}{261}{l168}{FV}
\nd{FT}{239}{FS}{FU}
\nd{GB}{288}{l174}{l175}
\nd{GA}{260}{l173}{GB}
\nd{GF}{288}{l177}{l178}
\nd{GE}{260}{l176}{GF}
\nd{GC}{238}{GA}{GE}
\nd{FZ}{218}{FT}{GC}
\nd{GL}{351}{l184}{l185}
\nd{GK}{332}{l183}{GL}
\nd{GJ}{313}{l182}{GK}
\nd{GI}{293}{l181}{GJ}
\nd{GO}{307}{l187}{l188}
\nd{GN}{288}{l186}{GO}
\nd{GM}{263}{GI}{GN}
\nd{GH}{240}{l180}{GM}
\nd{GG}{213}{l179}{GH}
\nd{GD}{190}{FZ}{GG}
\nd{FY}{165}{l165}{GD}
\nd{FR}{137}{FP}{FY}
\nd{GR}{224}{l191}{l192}
\nd{GQ}{193}{l190}{GR}
\nd{GP}{169}{l189}{GQ}
\nd{GT}{208}{l193}{l194}
\nd{GV}{218}{l195}{l196}
\nd{GX}{275}{l197}{l198}
\nd{GY}{244}{GX}{l199}
\nd{HC}{342}{l202}{l203}
\nd{HB}{322}{l201}{HC}
\nd{HA}{303}{l200}{HB}
\nd{HD}{263}{HA}{l204}
\nd{HE}{240}{HD}{l205}
\nd{GZ}{219}{GY}{HE}
\nd{GW}{195}{GV}{GZ}
\nd{GU}{159}{GT}{GW}
\nd{GS}{135}{GP}{GU}
\nd{Y3}{113}{FR}{GS}
\nd{HH}{258}{l208}{l209}
\nd{HI}{238}{HH}{l210}
\nd{HK}{235}{l211}{l212}
\nd{HJ}{196}{HI}{HK}
\nd{HN}{245}{l214}{l215}
\nd{HM}{217}{l213}{HN}
\nd{HP}{275}{l216}{l217}
\nd{HR}{280}{l218}{l219}
\nd{HQ}{239}{HP}{HR}
\nd{HT}{243}{l220}{l221}
\nd{HS}{216}{HQ}{HT}
\nd{HO}{194}{HM}{HS}
\nd{HL}{174}{HJ}{HO}
\nd{HG}{149}{l207}{HL}
\nd{HF}{115}{l206}{HG}
\nd{BH2}{92}{Y3}{HF}
\nd{Y2}{70}{BH}{BH2}
\nd{Y}{48}{H}{Y2}
\nd{X}{27}{D}{Y}
% root
\path let \p1=(A), \p2=(X) in ({5*0.5102pt},{(\y1+\y2)/2}) coordinate (root);
\begin{pgfonlayer}{bg}
\draw[br] (root) |- (A); \draw[br] (root) |- (B); \draw[br] (root) |- (X);
\end{pgfonlayer}
\node[ndot, fill=lblue] (rootd) at ([xshift=-5.1pt]root) {};
% scale bar
\coordinate (sb1) at (0.5,7450);
\coordinate (sb2) at (48,7450);
\draw[br] (sb1) -- (sb2);
\draw[br] (sb1) -- ++(0,-8);
\draw[br] (sb2) -- ++(0,-8);
\node[lab, anchor=north] (sbl) at (25,7454) {1.06636};
\end{tikzpicture}
\end{document}
